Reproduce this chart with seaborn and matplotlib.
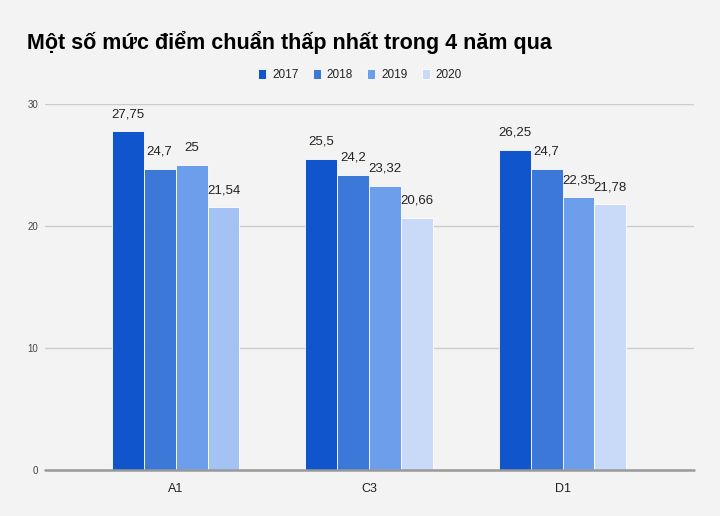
import matplotlib
matplotlib.use("Agg")
import matplotlib.pyplot as plt
import seaborn as sns
import pandas as pd

categories = ["A1", "C3", "D1"]
years = ["2017", "2018", "2019", "2020"]
v2017 = [27.75, 25.5, 26.25]
v2018 = [24.7, 24.2, 24.7]
v2019 = [25, 23.32, 22.35]
v2020 = [21.54, 20.66, 21.78]
labels2017 = ["27,75", "25,5", "26,25"]
labels2018 = ["24,7", "24,2", "24,7"]
labels2019 = ["25", "23,32", "22,35"]
labels2020 = ["21,54", "20,66", "21,78"]
yticks = [0, 10, 20, 30]

series = [v2017, v2018, v2019, v2020]
series_labels = [labels2017, labels2018, labels2019, labels2020]
rows = []
for y, vals in zip(years, series):
    for c, v in zip(categories, vals):
        rows.append({"cat": c, "year": y, "value": v})
df = pd.DataFrame(rows)

colors = ["#1155cc", "#3c78d8", "#6d9eeb", "#c9daf8"]
bg = "#f3f3f3"

sns.set_theme(style="white")
plt.rcParams["font.family"] = ["Liberation Sans", "DejaVu Sans"]

fig = plt.figure(figsize=(7.2, 5.16), dpi=100, facecolor=bg)
ax = fig.add_axes([0.0625, 0.0891, 0.9015, 0.7093])
ax.set_facecolor(bg)

sns.barplot(data=df, x="cat", y="value", hue="year", order=categories,
            hue_order=years, palette=colors, width=0.66, gap=0,
            edgecolor="#ffffff", linewidth=0.6, saturation=1, ax=ax,
            legend=True)

# A1 2020 bar has a slightly darker shade in the reference
ax.containers[3][0].set_facecolor("#a4c2f4")

for cont, labs in zip(ax.containers, series_labels):
    ax.bar_label(cont, labels=labs, padding=8, fontsize=9.5, color="#222222")

ax.set_ylim(0, 30)
ax.set_xlim(-0.675, 2.68)
ax.set_yticks(yticks)
ax.set_yticklabels([str(t) for t in yticks], fontsize=7, color="#444444")
ax.tick_params(axis="x", labelsize=9, colors="#222222", length=0, pad=9)
ax.tick_params(axis="y", length=0, pad=5)
ax.set_xlabel("")
ax.set_ylabel("")
for s in ax.spines.values():
    s.set_visible(False)
ax.grid(axis="y", color="#cccccc", linewidth=1)
ax.set_axisbelow(True)
ax.axhline(0, color="#999999", linewidth=1.8, zorder=3, clip_on=False)

handles, lbls = ax.get_legend_handles_labels()
ax.legend_.remove()
fig.legend(handles, lbls, loc="center", bbox_to_anchor=(0.5, 1 - 75 / 516),
           ncol=4, frameon=False, fontsize=8.5, handlelength=0.7,
           handleheight=0.9, handletextpad=0.5, columnspacing=1.2,
           labelcolor="#222222")

fig.text(27 / 720, 1 - 42 / 516, "Một số mức điểm chuẩn thấp nhất trong 4 năm qua",
         fontsize=15.5, fontweight="bold", color="#000000", va="center", ha="left")

fig.savefig("out.png", dpi=100, facecolor=bg)
